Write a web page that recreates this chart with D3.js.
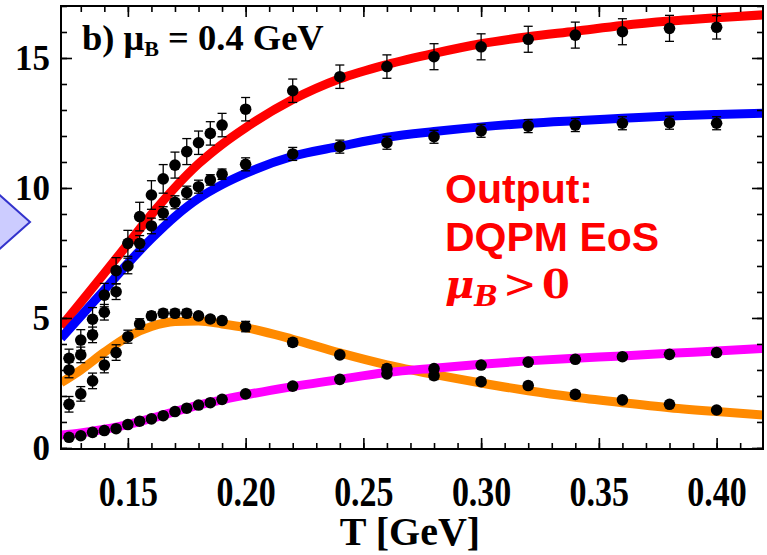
<!DOCTYPE html>
<html lang="en">
<head>
<meta charset="utf-8">
<script src="https://cdn.jsdelivr.net/npm/d3@7"></script>
<style type="text/css">
    body { margin: 0; background: #fff; }
    .axis path { display: none; }
    .axis line { stroke: black; stroke-width: 1.6px; }
    .axis text {
        font-family: "Liberation Serif", "Times New Roman", serif;
        font-weight: bold;
        fill: black;
    }
</style>
</head>
<body>
<script>
// temperatures of the lattice points (GeV)
const tData = [0.125, 0.13, 0.135, 0.14, 0.145, 0.15, 0.155, 0.16, 0.165, 0.17, 0.175,
               0.18, 0.185, 0.19, 0.20, 0.22, 0.24, 0.26, 0.28, 0.30, 0.32, 0.34, 0.36, 0.38, 0.40];

const redData = [3.45, 4.15, 4.95, 5.88, 6.82, 7.87, 8.9, 9.73, 10.35, 10.88, 11.4,
                 11.74, 12.1, 12.42, 13.03, 13.74, 14.28, 14.67, 15.05, 15.43, 15.72, 15.88, 16.01, 16.14, 16.18];
const redErr = [0.35, 0.4, 0.45, 0.45, 0.5, 0.5, 0.55, 0.55, 0.55, 0.5, 0.5,
                0.45, 0.45, 0.45, 0.45, 0.45, 0.45, 0.45, 0.5, 0.5, 0.5, 0.5, 0.5, 0.5, 0.45];

const blueData = [3.0, 3.58, 4.35, 5.22, 6.01, 7.0, 7.87, 8.54, 9.03, 9.45, 9.82,
                  10.05, 10.31, 10.53, 10.91, 11.31, 11.59, 11.74, 11.97, 12.2, 12.38, 12.42, 12.49, 12.51, 12.49];
const blueErr = [0.3, 0.3, 0.3, 0.3, 0.3, 0.3, 0.3, 0.3, 0.25, 0.25, 0.25,
                 0.25, 0.2, 0.2, 0.25, 0.25, 0.25, 0.25, 0.25, 0.25, 0.25, 0.25, 0.25, 0.25, 0.25];

const orangeData = [1.68, 2.08, 2.58, 3.19, 3.67, 4.28, 4.77, 5.08, 5.18, 5.18, 5.18,
                    5.08, 4.96, 4.9, 4.67, 4.06, 3.58, 3.05, 2.78, 2.55, 2.4, 2.06, 1.85, 1.68, 1.46];
const orangeErr = [0.3, 0.28, 0.3, 0.3, 0.3, 0.25, 0.2, 0.15, 0.15, 0.15, 0.15,
                   0.12, 0.12, 0.12, 0.2, 0.15, 0.12, 0.15, 0.15, 0.12, 0.12, 0.12, 0.1, 0.08, 0.08];

const magentaData = [0.41, 0.47, 0.60, 0.67, 0.74, 0.90, 1.03, 1.12, 1.24, 1.40, 1.53,
                     1.65, 1.74, 1.87, 2.08, 2.38, 2.64, 2.85, 3.05, 3.19, 3.3, 3.41, 3.51, 3.6, 3.67];
const magentaErr = [0.06, 0.06, 0.06, 0.06, 0.06, 0.06, 0.06, 0.06, 0.06, 0.06, 0.06,
                    0.06, 0.06, 0.06, 0.06, 0.06, 0.06, 0.06, 0.06, 0.06, 0.06, 0.06, 0.06, 0.06, 0.06];

// DQPM curves
const tCurve = [0.1216, 0.13, 0.14, 0.15, 0.16, 0.17, 0.18, 0.19, 0.20, 0.22, 0.24,
                0.26, 0.28, 0.30, 0.32, 0.34, 0.36, 0.38, 0.40, 0.42];
const redCurve = [4.67, 5.6, 6.72, 7.85, 8.98, 10.02, 10.93, 11.68, 12.32, 13.4, 14.2,
                  14.75, 15.18, 15.55, 15.82, 16.03, 16.25, 16.42, 16.55, 16.66];
const blueCurve = [4.22, 5.07, 6.08, 7.1, 8.05, 8.9, 9.6, 10.13, 10.56, 11.22, 11.6,
                   11.95, 12.17, 12.35, 12.49, 12.59, 12.68, 12.77, 12.83, 12.88];
const orangeCurve = [2.51, 3.0, 3.68, 4.28, 4.67, 4.86, 4.88, 4.77, 4.63, 4.18, 3.66,
                     3.2, 2.83, 2.5, 2.2, 1.95, 1.74, 1.55, 1.4, 1.27];
const magentaCurve = [0.5, 0.58, 0.72, 0.9, 1.14, 1.4, 1.65, 1.85, 2.04, 2.36, 2.64,
                      2.9, 3.07, 3.22, 3.35, 3.45, 3.54, 3.64, 3.73, 3.83];

const xMajor = [0.15, 0.20, 0.25, 0.30, 0.35, 0.40];
const xMinor = d3.range(13, 42).map(d => d / 100);
const yMajor = [0, 5, 10, 15];
const yMinor = d3.range(0, 18);

let w = 767, h = 555;
let pLeft = 61, pRight = 763, pTop = 6, pBottom = 449;

let svg = d3.select("body").append("svg")
    .attr("width", w)
    .attr("height", h);

let xScale = d3.scaleLinear().domain([0.1216, 0.4197]).range([pLeft, pRight]);
let yScale = d3.scaleLinear().domain([-0.04, 17]).range([pBottom, pTop]);

// lavender arrow tip from the neighbouring panel
svg.append("polygon")
    .attr("points", "-5,191 30,222 -5,253")
    .attr("fill", "#ccccff")
    .attr("stroke", "#3333cc")
    .attr("stroke-width", 2);

svg.append("clipPath").attr("id", "plot")
    .append("rect")
    .attr("x", pLeft).attr("y", pTop)
    .attr("width", pRight - pLeft).attr("height", pBottom - pTop);

// curves
let curves = [
    {c: redCurve, color: "#ff0000"},
    {c: blueCurve, color: "#0000ff"},
    {c: orangeCurve, color: "#ff8a00"},
    {c: magentaCurve, color: "#ff00ff"}
];
let line = d3.line()
    .x((d, i) => xScale(tCurve[i]))
    .y(d => yScale(d))
    .curve(d3.curveMonotoneX);

svg.append("g").attr("clip-path", "url(#plot)")
    .selectAll("path")
    .data(curves)
    .enter()
    .append("path")
    .attr("d", d => line(d.c))
    .attr("fill", "none")
    .attr("stroke", d => d.color)
    .attr("stroke-width", 9)
    .attr("stroke-linecap", "butt");

// lattice points with error bars
let series = [
    {v: redData, e: redErr},
    {v: blueData, e: blueErr},
    {v: orangeData, e: orangeErr},
    {v: magentaData, e: magentaErr}
];
let points = [];
series.forEach(s => {
    tData.forEach((t, i) => points.push({t: t, v: s.v[i], e: s.e[i]}));
});

let bars = svg.append("g")
    .attr("stroke", "black")
    .attr("stroke-width", 1.3);
bars.selectAll("line.v")
    .data(points)
    .enter()
    .append("line")
    .attr("x1", d => xScale(d.t)).attr("x2", d => xScale(d.t))
    .attr("y1", d => yScale(d.v - d.e)).attr("y2", d => yScale(d.v + d.e));
[-1, 1].forEach(sign => {
    bars.selectAll("line.cap" + sign)
        .data(points)
        .enter()
        .append("line")
        .attr("x1", d => xScale(d.t) - 4.5).attr("x2", d => xScale(d.t) + 4.5)
        .attr("y1", d => yScale(d.v + sign * d.e)).attr("y2", d => yScale(d.v + sign * d.e));
});

svg.append("g")
    .selectAll("circle")
    .data(points)
    .enter()
    .append("circle")
    .attr("cx", d => xScale(d.t))
    .attr("cy", d => yScale(d.v))
    .attr("r", 5.8)
    .attr("fill", "black");

// ticks on all four sides, pointing inward
svg.append("g").attr("class", "axis")
    .attr("transform", "translate(0," + pBottom + ")")
    .call(d3.axisBottom(xScale).tickValues(xMinor).tickSize(-6).tickFormat(""));
let xAx = svg.append("g").attr("class", "axis")
    .attr("transform", "translate(0," + pBottom + ")")
    .call(d3.axisBottom(xScale).tickValues(xMajor).tickSize(-11).tickFormat(d3.format(".2f")));
xAx.selectAll("text")
    .attr("y", null).attr("dy", null)
    .attr("font-size", 34)
    .attr("transform", "translate(0,57) scale(1,1.26)");

svg.append("g").attr("class", "axis")
    .attr("transform", "translate(0," + pTop + ")")
    .call(d3.axisTop(xScale).tickValues(xMinor).tickSize(-6).tickFormat(""));
svg.append("g").attr("class", "axis")
    .attr("transform", "translate(0," + pTop + ")")
    .call(d3.axisTop(xScale).tickValues(xMajor).tickSize(-11).tickFormat(""));

svg.append("g").attr("class", "axis")
    .attr("transform", "translate(" + pLeft + ",0)")
    .call(d3.axisLeft(yScale).tickValues(yMinor).tickSize(-6).tickFormat(""));
let yAx = svg.append("g").attr("class", "axis")
    .attr("transform", "translate(" + pLeft + ",0)")
    .call(d3.axisLeft(yScale).tickValues(yMajor).tickSize(-11).tickPadding(11).tickFormat(d3.format("d")));
yAx.selectAll("text")
    .attr("font-size", 35)
    .attr("dy", "0.34em");

svg.append("g").attr("class", "axis")
    .attr("transform", "translate(" + pRight + ",0)")
    .call(d3.axisRight(yScale).tickValues(yMinor).tickSize(-6).tickFormat(""));
svg.append("g").attr("class", "axis")
    .attr("transform", "translate(" + pRight + ",0)")
    .call(d3.axisRight(yScale).tickValues(yMajor).tickSize(-11).tickFormat(""));

svg.append("rect")
    .attr("x", pLeft).attr("y", pTop)
    .attr("width", pRight - pLeft).attr("height", pBottom - pTop)
    .attr("fill", "none")
    .attr("stroke", "black")
    .attr("stroke-width", 2);

// panel title
let title = svg.append("text")
    .attr("x", 82).attr("y", 50)
    .attr("font-family", "Liberation Serif, Times New Roman, serif")
    .attr("font-weight", "bold")
    .attr("font-size", 36.5);
title.append("tspan").text("b) \u03bc");
title.append("tspan").attr("font-size", 22).attr("dy", 6).text("B");
title.append("tspan").attr("dy", -6).text(" = 0.4 GeV");

// x axis title
svg.append("text")
    .attr("x", 410).attr("y", 545)
    .attr("text-anchor", "middle")
    .attr("font-family", "Liberation Serif, Times New Roman, serif")
    .attr("font-weight", "bold")
    .attr("font-size", 40)
    .text("T [GeV]");

// red annotation
let note = svg.append("g").attr("fill", "#ff0000");
note.append("text")
    .attr("x", 445).attr("y", 203)
    .attr("font-family", "Liberation Sans, Arial, sans-serif")
    .attr("font-weight", "bold").attr("font-size", 41)
    .text("Output:");
note.append("text")
    .attr("x", 445).attr("y", 251)
    .attr("font-family", "Liberation Sans, Arial, sans-serif")
    .attr("font-weight", "bold").attr("font-size", 41)
    .text("DQPM EoS");
let mu = note.append("text")
    .attr("x", 445).attr("y", 298)
    .attr("font-family", "DejaVu Serif, serif")
    .attr("font-weight", "bold").attr("font-size", 40);
mu.append("tspan").attr("font-style", "italic").text("\u03bc");
mu.append("tspan").attr("font-style", "italic").attr("font-size", 28).attr("dy", 8).text("B");
mu.append("tspan").attr("x", 503).attr("dy", -8)
    .attr("font-family", "DejaVu Sans, sans-serif").attr("font-weight", "normal").text(">");
mu.append("tspan").attr("x", 542).text("0");
</script>
</body>
</html>
